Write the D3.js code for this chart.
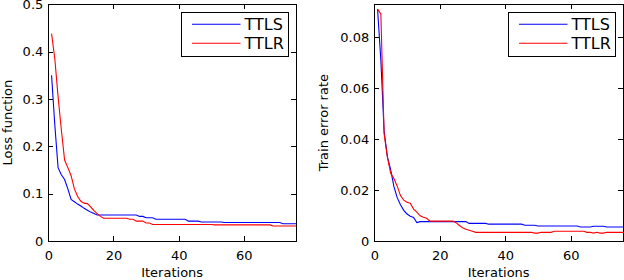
<!DOCTYPE html>
<html>
<head>
<meta charset="utf-8">
<script src="https://cdn.jsdelivr.net/npm/d3@7"></script>
<style>
  body { margin: 0; background: #fff; }
  svg { display: block; }
  text { font-family: "DejaVu Sans", sans-serif; fill: #000; }
</style>
</head>
<body>
<div class="chart"></div>
<script>
// values, one per iteration (1..76)
var lossTTLS = [0.35, 0.245, 0.155, 0.14, 0.13, 0.11, 0.088, 0.083, 0.078, 0.074,
  0.069, 0.065, 0.061, 0.058, 0.055,
  0.055, 0.055, 0.055, 0.055, 0.055, 0.055, 0.055, 0.055, 0.055, 0.055, 0.055, 0.055,
  0.052, 0.052,
  0.049, 0.049, 0.049,
  0.046, 0.046, 0.046, 0.046, 0.046, 0.046, 0.046, 0.046, 0.046, 0.046,
  0.042, 0.042, 0.042, 0.042,
  0.040, 0.040, 0.040, 0.040, 0.040, 0.040, 0.040,
  0.039, 0.039, 0.039, 0.039, 0.039, 0.039, 0.039, 0.039, 0.039,
  0.039, 0.039, 0.039, 0.039, 0.039, 0.039, 0.039, 0.039, 0.039,
  0.0365, 0.0365, 0.0365, 0.0365, 0.0365];

var lossTTLR = [0.438, 0.385, 0.305, 0.235, 0.171, 0.155, 0.138, 0.11, 0.094, 0.084,
  0.080, 0.079, 0.072, 0.064, 0.058, 0.052,
  0.048, 0.048, 0.048, 0.048, 0.048, 0.048, 0.048, 0.048,
  0.046, 0.046,
  0.042, 0.042, 0.042,
  0.038, 0.038,
  0.035, 0.035, 0.035, 0.035, 0.035, 0.035, 0.035, 0.035, 0.035, 0.035,
  0.035, 0.035, 0.035, 0.035, 0.035, 0.035, 0.035, 0.035, 0.035,
  0.034, 0.034, 0.034, 0.034, 0.034, 0.034, 0.034, 0.034, 0.034,
  0.034, 0.034, 0.034, 0.034, 0.034, 0.034, 0.034, 0.034, 0.034,
  0.0316, 0.0316, 0.0316, 0.0316, 0.0316, 0.0316, 0.0316, 0.0316];

var errTTLS = [0.0909, 0.071, 0.043, 0.033, 0.028, 0.0213, 0.017, 0.0142, 0.012, 0.0106,
  0.0097, 0.0092, 0.0072, 0.0076,
  0.0076, 0.0076, 0.0076, 0.0076, 0.0076, 0.0076, 0.0076, 0.0076, 0.0076, 0.0076, 0.0076, 0.0076, 0.0076, 0.0076,
  0.0069, 0.0069, 0.0069, 0.0069, 0.0069, 0.0069,
  0.0066, 0.0066, 0.0066, 0.0066, 0.0066, 0.0066, 0.0066, 0.0066, 0.0066, 0.0066, 0.0066,
  0.0062, 0.0062, 0.0062, 0.0062,
  0.0059, 0.0059, 0.0059, 0.0059, 0.0059, 0.0059, 0.0059, 0.0059, 0.0059, 0.0059, 0.0059, 0.0059, 0.0059,
  0.0055, 0.0055, 0.0055, 0.0055,
  0.0058, 0.0058, 0.0058, 0.0058,
  0.0055, 0.0055, 0.0055, 0.0055, 0.0055, 0.0055];

var errTTLR = [0.0909, 0.089, 0.042, 0.033, 0.0265, 0.0245, 0.0215, 0.0178, 0.016, 0.0152,
  0.0148, 0.0125, 0.0113, 0.0099, 0.0093, 0.0089,
  0.0078, 0.0078, 0.0078, 0.0078, 0.0078, 0.0078, 0.0078, 0.0078,
  0.0072, 0.0061, 0.0052, 0.0046, 0.0042, 0.0038,
  0.0034, 0.0034, 0.0034, 0.0034, 0.0034, 0.0034, 0.0034, 0.0034, 0.0034,
  0.0034, 0.0034, 0.0034, 0.0034, 0.0034, 0.0034, 0.0034, 0.0034, 0.0034,
  0.0031, 0.0031,
  0.0034, 0.0034, 0.0034, 0.0034,
  0.0038, 0.0038, 0.0038, 0.0038, 0.0038, 0.0038, 0.0038, 0.0038, 0.0038, 0.0038,
  0.0034, 0.0034,
  0.0031,
  0.0034,
  0.0031, 0.0031,
  0.0034, 0.0034, 0.0034, 0.0034, 0.0034, 0.0034];

var seriesNames = ["TTLS", "TTLR"];
var seriesColors = ["#0000ff", "#ff0000"];
var xTicks = [0, 20, 40, 60];
var lossTicks = [0, 0.1, 0.2, 0.3, 0.4, 0.5];
var errTicks = [0, 0.02, 0.04, 0.06, 0.08];

var svgWidth = 624;
var svgHeight = 280;

var svg = d3.select(".chart")
    .append("svg")
    .attr("width", svgWidth)
    .attr("height", svgHeight);

// draws one panel: box, inward ticks on all four sides, lines, legend
function drawPanel(opts) {
    var left = opts.left, right = opts.right, top = 4.3, bottom = 241;

    var x = d3.scaleLinear().domain([0, 76]).range([left, right]);
    var y = d3.scaleLinear().domain(opts.yDomain).range([bottom, top]);

    var g = svg.append("g");

    // lines, TTLS first so TTLR sits on top
    var line = d3.line()
        .x(function(d, i) { return x(i + 1); })
        .y(function(d) { return y(d); });

    opts.series.forEach(function(vals, k) {
        g.append("path")
            .datum(vals)
            .attr("fill", "none")
            .attr("stroke", seriesColors[k])
            .attr("stroke-width", 1.1)
            .attr("d", line);
    });

    // axes with ticks pointing into the plot
    var bottomAxis = d3.axisBottom(x).tickValues(xTicks).tickSize(-5).tickPadding(10)
        .tickFormat(d3.format("d"));
    var leftAxis = d3.axisLeft(y).tickValues(opts.yTicks).tickSize(-5).tickPadding(5)
        .tickFormat(function(d) { return d === 0 ? "0" : String(+d.toFixed(3)); });

    var gx = g.append("g").attr("transform", "translate(0," + bottom + ")").call(bottomAxis);
    var gy = g.append("g").attr("transform", "translate(" + left + ",0)").call(leftAxis);
    var gt = g.append("g").attr("transform", "translate(0," + top + ")")
        .call(d3.axisTop(x).tickValues(xTicks).tickSize(-5).tickFormat(""));
    var gr = g.append("g").attr("transform", "translate(" + right + ",0)")
        .call(d3.axisRight(y).tickValues(opts.yTicks).tickSize(-5).tickFormat(""));

    [gx, gy, gt, gr].forEach(function(a) {
        a.select(".domain").remove();
        a.selectAll("line").attr("stroke", "#000").attr("shape-rendering", "crispEdges");
        a.selectAll("text").style("font-size", "13px").style("font-family", "DejaVu Sans");
    });

    g.append("rect")
        .attr("x", left).attr("y", top)
        .attr("width", right - left).attr("height", bottom - top)
        .attr("fill", "none").attr("stroke", "#000")
        .attr("shape-rendering", "crispEdges");

    // axis titles
    g.append("text")
        .attr("x", (left + right) / 2).attr("y", 276.5)
        .attr("text-anchor", "middle")
        .style("font-size", "13px")
        .text("Iterations");

    g.append("text")
        .attr("transform", "translate(" + opts.yLabelX + "," + (top + bottom) / 2 + ") rotate(-90)")
        .attr("text-anchor", "middle")
        .style("font-size", "13px")
        .text(opts.yLabel);

    // legend
    var lg = g.append("g");
    var lx = right - 114.5, ly = 12;
    lg.append("rect")
        .attr("x", lx).attr("y", ly).attr("width", 106.7).attr("height", 44)
        .attr("fill", "#fff").attr("stroke", "#000")
        .attr("shape-rendering", "crispEdges");
    seriesNames.forEach(function(name, k) {
        var yy = ly + 12.3 + k * 19;
        lg.append("line")
            .attr("x1", lx + 10.5).attr("x2", lx + 59)
            .attr("y1", yy).attr("y2", yy)
            .attr("stroke", seriesColors[k]).attr("stroke-width", 1.1);
        lg.append("text")
            .attr("x", lx + 63).attr("y", yy + 6)
            .style("font-size", "16px")
            .text(name);
    });
}

drawPanel({
    left: 48.3, right: 296,
    yDomain: [0, 0.5], yTicks: lossTicks,
    series: [lossTTLS, lossTTLR],
    yLabel: "Loss function", yLabelX: 12
});

drawPanel({
    left: 374.3, right: 623,
    yDomain: [0, 0.0928], yTicks: errTicks,
    series: [errTTLS, errTTLR],
    yLabel: "Train error rate", yLabelX: 328
});
</script>
</body>
</html>
